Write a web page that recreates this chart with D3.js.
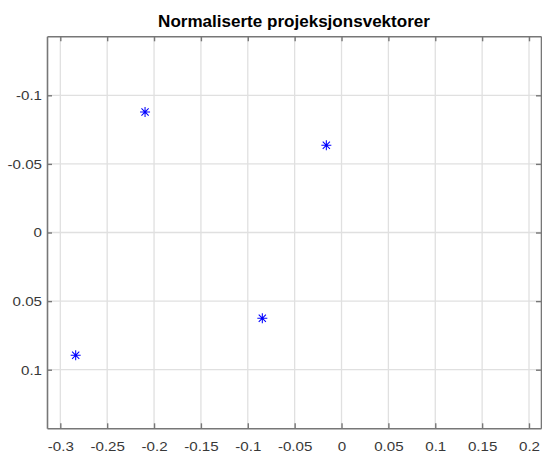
<!DOCTYPE html>
<html>
<head>
<meta charset="utf-8">
<script src="https://cdn.jsdelivr.net/npm/d3@7"></script>
<style>
  html, body { margin: 0; padding: 0; background: #fff; }
  svg { display: block; }
  text { font-family: "Liberation Sans", Arial, Helvetica, sans-serif; }
</style>
</head>
<body>
<svg id="chart" width="542" height="453"></svg>
<script>
// Projection vectors (normalised), one point per vector
const xValues = [-0.2096, -0.0162, -0.0845, -0.2836];
const yValues = [-0.0878, -0.0636, 0.0625, 0.0895];

const xTicks = [-0.3, -0.25, -0.2, -0.15, -0.1, -0.05, 0, 0.05, 0.1, 0.15, 0.2];
const xTickLabels = ["-0.3", "-0.25", "-0.2", "-0.15", "-0.1", "-0.05", "0", "0.05", "0.1", "0.15", "0.2"];
const yTicks = [-0.1, -0.05, 0, 0.05, 0.1];
const yTickLabels = ["-0.1", "-0.05", "0", "0.05", "0.1"];

const xDomain = [-0.3142, 0.2128];
const yDomain = [-0.1430, 0.1427];

const titleText = "Normaliserte projeksjonsvektorer";

const W = 542, H = 453;
const margin = { left: 47, right: 1, top: 36.3, bottom: 24.7 };
const svg = d3.select("#chart");

const x = d3.scaleLinear().domain(xDomain).range([margin.left, W - margin.right]);
// y axis runs downward: negative values at the top
const y = d3.scaleLinear().domain(yDomain).range([margin.top, H - margin.bottom]);

const x0 = x.range()[0], x1 = x.range()[1];
const y0 = y.range()[0], y1 = y.range()[1];

const axisColor = "#777";
const gridColor = "#e0e0e0";
const labelColor = "#383838";
const tickLen = 5;

// grid
const grid = svg.append("g");
grid.selectAll("line.gx").data(xTicks).join("line")
  .attr("x1", d => x(d)).attr("x2", d => x(d))
  .attr("y1", y0).attr("y2", y1)
  .attr("stroke", gridColor).attr("stroke-width", 1.3);
grid.selectAll("line.gy").data(yTicks).join("line")
  .attr("y1", d => y(d)).attr("y2", d => y(d))
  .attr("x1", x0).attr("x2", x1)
  .attr("stroke", gridColor).attr("stroke-width", 1.3);

// axes: bottom/left with labels, top/right as box with inward ticks
const fmtX = (d, i) => xTickLabels[i];
const fmtY = (d, i) => yTickLabels[i];

function styleAxis(g) {
  g.select(".domain").attr("stroke", axisColor).attr("stroke-width", 1.6);
  g.selectAll(".tick line").attr("stroke", axisColor).attr("stroke-width", 1.4);
  g.selectAll(".tick text").attr("fill", labelColor).attr("font-size", 13.5)
    .attr("font-family", "Liberation Sans, Arial, sans-serif");
}

const axB = svg.append("g").attr("transform", `translate(0,${y1})`)
  .call(d3.axisBottom(x).tickValues(xTicks).tickFormat(fmtX)
    .tickSizeInner(-tickLen).tickSizeOuter(0).tickPadding(13));
styleAxis(axB);

const axT = svg.append("g").attr("transform", `translate(0,${y0})`)
  .call(d3.axisTop(x).tickValues(xTicks).tickFormat("")
    .tickSizeInner(-tickLen).tickSizeOuter(0));
styleAxis(axT);

const axL = svg.append("g").attr("transform", `translate(${x0},0)`)
  .call(d3.axisLeft(y).tickValues(yTicks).tickFormat(fmtY)
    .tickSizeInner(-tickLen).tickSizeOuter(0).tickPadding(5));
styleAxis(axL);

const axR = svg.append("g").attr("transform", `translate(${x1},0)`)
  .call(d3.axisRight(y).tickValues(yTicks).tickFormat("")
    .tickSizeInner(-tickLen).tickSizeOuter(0));
styleAxis(axR);

// asterisk markers
const r = 5, rd = 3.6;
const asterisk = `M${-r},0L${r},0M0,${-r}L0,${r}M${-rd},${-rd}L${rd},${rd}M${-rd},${rd}L${rd},${-rd}`;
svg.append("g").selectAll("path").data(xValues.map((v, i) => [v, yValues[i]])).join("path")
  .attr("transform", d => `translate(${x(d[0])},${y(d[1])})`)
  .attr("d", asterisk)
  .attr("fill", "none")
  .attr("stroke", "#0000ff")
  .attr("stroke-width", 1.05);

// title
const title = svg.append("text")
  .attr("x", (x0 + x1) / 2).attr("y", 27.3)
  .attr("text-anchor", "middle")
  .attr("font-size", 16).attr("font-weight", "bold")
  .attr("fill", "#000")
  .text(titleText);

// widen glyphs horizontally to the figure's aspect
function widen(sel, k) {
  sel.each(function () {
    const w = this.getComputedTextLength();
    if (w > 0) {
      this.setAttribute("textLength", w * k);
      this.setAttribute("lengthAdjust", "spacingAndGlyphs");
    }
  });
}
widen(svg.selectAll(".tick text"), 1.12);
widen(title, 1.065);
</script>
</body>
</html>
